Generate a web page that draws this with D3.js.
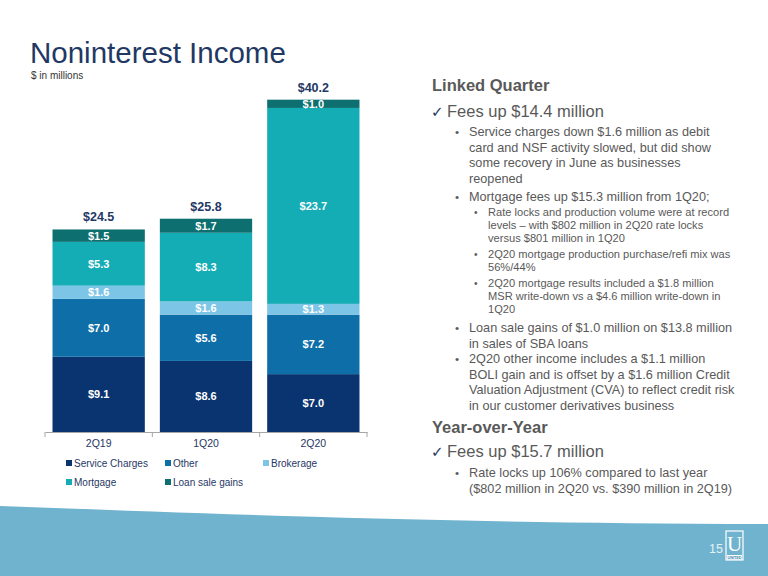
<!DOCTYPE html>
<html>
<head>
<meta charset="utf-8">
<script src="https://cdn.jsdelivr.net/npm/d3@7"></script>
<style>
  body { margin: 0; background: #fff; }
  svg { display: block; font-family: "Liberation Sans", Arial, sans-serif; }
</style>
</head>
<body>
<script>
// données du graphique
const quarters = ["2Q19", "1Q20", "2Q20"];
const seriesNames = ["Service Charges", "Other", "Brokerage", "Mortgage", "Loan sale gains"];
const serviceCharges = [9.1, 8.6, 7.0];
const other = [7.0, 5.6, 7.2];
const brokerage = [1.6, 1.6, 1.3];
const mortgage = [5.3, 8.3, 23.7];
const loanSaleGains = [1.5, 1.7, 1.0];
const totals = [24.5, 25.8, 40.2];

const colors = ["#0a3470", "#0e6ea8", "#7dc5e6", "#14acb5", "#0d6f70"];
const navy = "#1f3864";
const grey = "#595959";

const width = 768;
const height = 576;

const svg = d3.select("body").append("svg")
  .attr("width", width)
  .attr("height", height);

// titre
svg.append("text")
  .attr("x", 30).attr("y", 63)
  .style("font-size", "29.5px")
  .style("fill", navy)
  .text("Noninterest Income");

svg.append("text")
  .attr("x", 31).attr("y", 79)
  .style("font-size", "10px")
  .style("fill", "#333")
  .text("$ in millions");

// échelles
const x = d3.scaleBand()
  .domain(quarters)
  .range([45, 367])
  .paddingInner(0.14)
  .paddingOuter(0.07);

const y = d3.scaleLinear()
  .domain([0, 45])
  .range([432, 60]);

// table empilée construite à partir des séries
const table = quarters.map((q, i) => ({
  quarter: q,
  "Service Charges": serviceCharges[i],
  "Other": other[i],
  "Brokerage": brokerage[i],
  "Mortgage": mortgage[i],
  "Loan sale gains": loanSaleGains[i]
}));
const stacked = d3.stack().keys(seriesNames)(table);

const layers = svg.append("g").selectAll("g")
  .data(stacked)
  .enter().append("g")
  .attr("fill", (d, i) => colors[i]);

layers.selectAll("rect")
  .data(d => d)
  .enter().append("rect")
  .attr("x", d => x(d.data.quarter))
  .attr("y", d => y(d[1]))
  .attr("width", x.bandwidth())
  .attr("height", d => y(d[0]) - y(d[1]));

layers.selectAll("text")
  .data(d => d.map(p => ({ p: p, v: p[1] - p[0] })))
  .enter().append("text")
  .attr("x", d => x(d.p.data.quarter) + x.bandwidth() / 2)
  .attr("y", d => (y(d.p[0]) + y(d.p[1])) / 2 + 4)
  .attr("text-anchor", "middle")
  .style("font-size", "11px")
  .style("font-weight", "bold")
  .style("fill", "#fff")
  .text(d => "$" + d.v.toFixed(1));

// totaux
svg.append("g").selectAll("text")
  .data(totals)
  .enter().append("text")
  .attr("x", (d, i) => x(quarters[i]) + x.bandwidth() / 2)
  .attr("y", d => y(d) - 8)
  .attr("text-anchor", "middle")
  .style("font-size", "12.5px")
  .style("font-weight", "bold")
  .style("fill", navy)
  .text(d => "$" + d.toFixed(1));

// axe x
const xAxis = svg.append("g")
  .attr("transform", "translate(0,432)")
  .call(d3.axisBottom(x).tickSize(0).tickSizeOuter(0).tickPadding(8));
xAxis.select(".domain").attr("stroke", "#a6a6a6");
xAxis.selectAll("text")
  .style("font-size", "10.5px")
  .style("fill", navy)
  .attr("font-family", null);

const step = x.step();
const bounds = quarters.map(q => x(q) - step * x.paddingInner() / 2)
  .concat([x(quarters[2]) + x.bandwidth() + step * x.paddingInner() / 2]);
xAxis.selectAll(".bound")
  .data(bounds)
  .enter().append("line")
  .attr("class", "bound")
  .attr("x1", d => d).attr("x2", d => d)
  .attr("y1", 0).attr("y2", 5)
  .attr("stroke", "#a6a6a6");

// légende
const legendPos = [[66, 467], [165, 467], [263, 467], [66, 486], [165, 486]];
const legend = svg.append("g").selectAll("g")
  .data(seriesNames)
  .enter().append("g")
  .attr("transform", (d, i) => `translate(${legendPos[i][0]},${legendPos[i][1]})`);
legend.append("rect")
  .attr("x", 0).attr("y", -7)
  .attr("width", 6).attr("height", 6)
  .attr("fill", (d, i) => colors[i]);
legend.append("text")
  .attr("x", 8).attr("y", 0)
  .style("font-size", "10px")
  .style("fill", navy)
  .text(d => d);

// texte de droite
const blocks = [
  { kind: "h", y: 91, lines: ["Linked Quarter"] },
  { kind: "c", y: 117, lines: ["Fees up $14.4 million"] },
  { kind: "b", y: 136, lines: ["Service charges down $1.6 million as debit", "card and NSF activity slowed, but did show", "some recovery in June as businesses", "reopened"] },
  { kind: "b", y: 201, lines: ["Mortgage fees up $15.3 million from 1Q20;"] },
  { kind: "s", y: 216, lines: ["Rate locks and production volume were at record", "levels \u2013 with $802 million in 2Q20 rate locks", "versus $801 million in 1Q20"] },
  { kind: "s", y: 258, lines: ["2Q20 mortgage production purchase/refi mix was", "56%/44%"] },
  { kind: "s", y: 287, lines: ["2Q20 mortgage results included a $1.8 million", "MSR write-down vs a $4.6 million write-down in", "1Q20"] },
  { kind: "b", y: 332, lines: ["Loan sale gains of $1.0 million on $13.8 million", "in sales of SBA loans"] },
  { kind: "b", y: 363, lines: ["2Q20 other income includes a $1.1 million", "BOLI gain and is offset by a $1.6 million Credit", "Valuation Adjustment (CVA) to reflect credit risk", "in our customer derivatives business"] },
  { kind: "h", y: 433, lines: ["Year-over-Year"] },
  { kind: "c", y: 457, lines: ["Fees up $15.7 million"] },
  { kind: "b", y: 477, lines: ["Rate locks up 106% compared to last year", "($802 million in 2Q20 vs. $390 million in 2Q19)"] }
];

const styles = {
  h: { x: 432, size: 16.5, lead: 0, weight: "bold" },
  c: { x: 447, size: 16.5, lead: 0, weight: "normal" },
  b: { x: 469, size: 12.7, lead: 15.6, weight: "normal", dot: 455 },
  s: { x: 488, size: 11.1, lead: 13.2, weight: "normal", dot: 474 }
};

const side = svg.append("g");
blocks.forEach(b => {
  const st = styles[b.kind];
  b.lines.forEach((line, i) => {
    side.append("text")
      .attr("x", st.x)
      .attr("y", b.y + i * st.lead)
      .style("font-size", st.size + "px")
      .style("font-weight", st.weight)
      .style("fill", grey)
      .text(line);
  });
  if (st.dot) {
    side.append("text")
      .attr("x", st.dot)
      .attr("y", b.y)
      .style("font-size", (st.size - 1) + "px")
      .style("fill", grey)
      .text("\u2022");
  }
  if (b.kind === "c") {
    side.append("text")
      .attr("x", 431)
      .attr("y", b.y)
      .style("font-family", "DejaVu Sans, sans-serif")
      .style("font-size", "15px")
      .style("fill", navy)
      .text("\u2713");
  }
});

// bandeau du bas
svg.append("path")
  .attr("d", "M0,506 C200,513 420,523 768,524 L768,576 L0,576 Z")
  .attr("fill", "#70b3cf");

svg.append("text")
  .attr("x", 723).attr("y", 553)
  .attr("text-anchor", "end")
  .style("font-size", "12.5px")
  .style("fill", "#e4f1f7")
  .text("15");

// logo
const logo = svg.append("g").attr("transform", "translate(726,531)");
logo.append("rect")
  .attr("width", 17).attr("height", 29)
  .attr("fill", "#70b3cf")
  .attr("stroke", "#fff").attr("stroke-width", 1.2);
logo.append("text")
  .attr("x", 8.5).attr("y", 19.5)
  .attr("text-anchor", "middle")
  .style("font-family", "Liberation Serif, DejaVu Serif, serif")
  .style("font-size", "21px")
  .style("fill", "#fff")
  .text("U");
logo.append("rect")
  .attr("x", 1).attr("y", 24)
  .attr("width", 15).attr("height", 4.5)
  .attr("fill", "#fff");
logo.append("text")
  .attr("x", 8.5).attr("y", 28.2)
  .attr("text-anchor", "middle")
  .style("font-size", "3.8px")
  .style("font-weight", "bold")
  .style("fill", "#3f86ad")
  .text("UNITED");
</script>
</body>
</html>
